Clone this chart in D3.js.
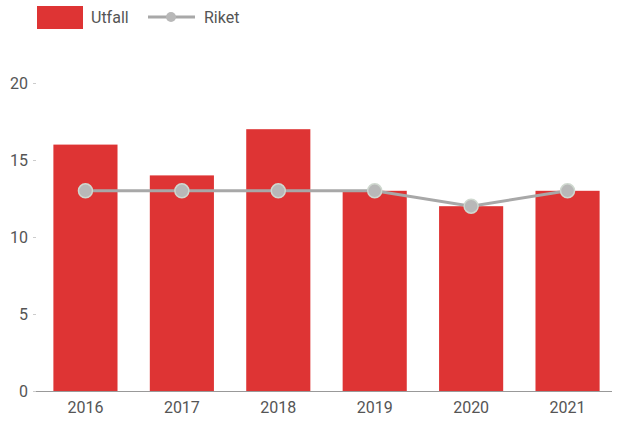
<!DOCTYPE html>
<html><head><meta charset="utf-8">
<script src="https://cdn.jsdelivr.net/npm/d3@7"></script>
<style>body{margin:0;background:#fff;}svg{display:block;font-family:Roboto,sans-serif;}</style>
</head><body>
<svg id="c" width="633" height="434"></svg>
<script>
const categories = ["2016","2017","2018","2019","2020","2021"];
const utfall = [16, 14, 17, 13, 12, 13];
const riket = [13, 13, 13, 13, 12, 13];
const yTicks = [0, 5, 10, 15, 20];
const seriesNames = ["Utfall", "Riket"];

const svg = d3.select("#c");
const x = d3.scaleBand().domain(categories).range([37, 616]).paddingInner(0.335).paddingOuter(0.17);
const y = d3.scaleLinear().domain([0, 20]).range([391, 83]);
const textColor = "#555";
const barColor = "#de3434";
const lineColor = "#a8a8a8";

// y axis labels
const ya = svg.append("g").attr("transform","translate(36,0)")
  .call(d3.axisLeft(y).tickValues(yTicks).tickSize(3).tickPadding(5));
ya.select(".domain").remove();
ya.selectAll("line").attr("stroke","#ccc");
ya.selectAll("text").attr("fill",textColor).style("font-size","16px").style("font-family","Roboto,sans-serif");

// bars
svg.append("g").selectAll("rect").data(utfall).join("rect")
  .attr("x",(d,i)=>x(categories[i])).attr("width",x.bandwidth())
  .attr("y",d=>y(d)).attr("height",d=>y(0)-y(d)).attr("fill",barColor);

// x axis
const xa = svg.append("g").attr("transform",`translate(0,${y(0)})`)
  .call(d3.axisBottom(x).tickSize(0).tickPadding(11));
xa.select(".domain").attr("stroke","#999").attr("stroke-width",1.2).attr("d","M36,0.5H612");
xa.selectAll("text").attr("fill",textColor).style("font-size","16px").style("font-family","Roboto,sans-serif");

// line
const cx = (i)=>x(categories[i])+x.bandwidth()/2;
svg.append("path").datum(riket)
  .attr("d", d3.line().x((d,i)=>cx(i)).y(d=>y(d)))
  .attr("fill","none").attr("stroke",lineColor).attr("stroke-width",3);
svg.append("g").selectAll("circle").data(riket).join("circle")
  .attr("cx",(d,i)=>cx(i)).attr("cy",d=>y(d)).attr("r",7)
  .attr("fill","#b8b8b8").attr("stroke","#cfd8cf").attr("stroke-width",1.5);

// legend
const lg = svg.append("g");
lg.append("rect").attr("x",37).attr("y",6).attr("width",46).attr("height",23).attr("fill",barColor);
lg.append("text").attr("x",91).attr("y",23).text(seriesNames[0]).attr("fill",textColor).style("font-size","16px");
lg.append("line").attr("x1",148).attr("x2",195).attr("y1",17).attr("y2",17).attr("stroke",lineColor).attr("stroke-width",3);
lg.append("circle").attr("cx",171).attr("cy",17).attr("r",5).attr("fill","#b8b8b8");
lg.append("text").attr("x",204).attr("y",23).text(seriesNames[1]).attr("fill",textColor).style("font-size","16px");
</script>
</body></html>
